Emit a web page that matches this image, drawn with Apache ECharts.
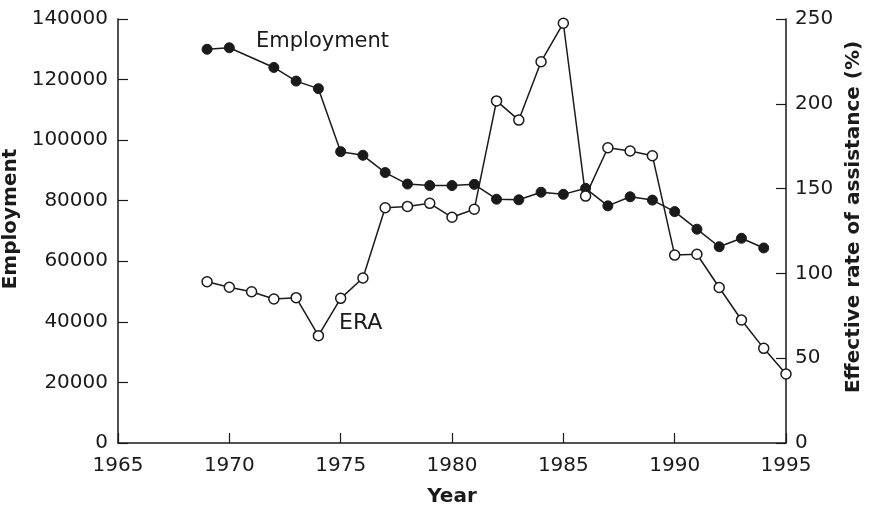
<!DOCTYPE html>
<html>
<head>
<meta charset="utf-8">
<style>
  html, body { margin: 0; padding: 0; background: #fff; }
  #chart { width: 871px; height: 511px; }
</style>
<script src="https://cdn.jsdelivr.net/npm/echarts@6/dist/echarts.min.js"></script>
</head>
<body>
<div id="chart"></div>
<script>
// Employment (left axis), filled markers
const empYears = [1969, 1970, 1972, 1973, 1974, 1975, 1976, 1977, 1978, 1979, 1980, 1981, 1982,
                  1983, 1984, 1985, 1986, 1987, 1988, 1989, 1990, 1991, 1992, 1993, 1994];
const empValues = [130000, 130500, 124000, 119500, 117000, 96200, 95000, 89300, 85500, 85000, 85000, 85400, 80500,
                   80300, 82800, 82100, 84100, 78300, 81300, 80200, 76400, 70600, 64800, 67600, 64400];

// Effective rate of assistance (right axis), hollow markers
const eraYears = [1969, 1970, 1971, 1972, 1973, 1974, 1975, 1976, 1977, 1978, 1979, 1980, 1981, 1982,
                  1983, 1984, 1985, 1986, 1987, 1988, 1989, 1990, 1991, 1992, 1993, 1994, 1995];
const eraValues = [95.1, 91.8, 89.2, 84.9, 85.7, 63.3, 85.3, 97.3, 138.7, 139.5, 141.3, 133.1, 137.8, 201.7,
                   190.4, 224.8, 247.5, 145.6, 174.1, 172.2, 169.4, 110.8, 111.3, 91.7, 72.5, 55.8, 40.7];

const xTicks = [1965, 1970, 1975, 1980, 1985, 1990, 1995];
const leftTicks = [0, 20000, 40000, 60000, 80000, 100000, 120000, 140000];
const rightTicks = [0, 50, 100, 150, 200, 250];

const empData = empYears.map((y, i) => [y, empValues[i]]);
const eraData = eraYears.map((y, i) => [y, eraValues[i]]);

const ink = '#1a1a1a';
const tickFont = { fontFamily: 'DejaVu Sans', fontSize: 20, color: ink };
const titleFont = { fontFamily: 'DejaVu Sans', fontSize: 20, fontWeight: 'bold', color: ink };

const chart = echarts.init(document.getElementById('chart'), null, { renderer: 'canvas' });
chart.setOption({
  backgroundColor: '#fff',
  animation: false,
  grid: { left: 118, right: 85, top: 19, bottom: 68, containLabel: false, outerBoundsMode: 'none' },
  xAxis: {
    type: 'value',
    min: xTicks[0], max: xTicks[xTicks.length - 1], interval: 5,
    name: 'Year', nameLocation: 'middle', nameGap: 44,
    nameTextStyle: titleFont,
    axisLine: { show: true, lineStyle: { color: ink, width: 1.5 } },
    axisTick: { show: true, inside: true, length: 10, lineStyle: { color: ink, width: 1.2 } },
    axisLabel: Object.assign({ margin: 13, formatter: v => String(v) }, tickFont),
    splitLine: { show: false }
  },
  yAxis: [
    {
      type: 'value', position: 'left',
      min: leftTicks[0], max: leftTicks[leftTicks.length - 1], interval: 20000,
      name: 'Employment', nameLocation: 'middle', nameGap: 90, nameRotate: 90,
      nameTextStyle: Object.assign({ padding: [0, 0, 0, 24] }, titleFont),
      axisLine: { show: true, lineStyle: { color: ink, width: 1.5 } },
      axisTick: { show: true, inside: true, length: 10, lineStyle: { color: ink, width: 1.2 } },
      axisLabel: Object.assign({ margin: 10, formatter: v => String(v) }, tickFont),
      splitLine: { show: false }
    },
    {
      type: 'value', position: 'right',
      min: rightTicks[0], max: rightTicks[rightTicks.length - 1], interval: 50,
      name: 'Effective rate of assistance (%)', nameLocation: 'middle', nameGap: 55, nameRotate: 90,
      nameTextStyle: Object.assign({ padding: [0, 0, 0, 28] }, titleFont),
      axisLine: { show: true, lineStyle: { color: ink, width: 1.5 } },
      axisTick: { show: true, inside: true, length: 10, lineStyle: { color: ink, width: 1.2 } },
      axisLabel: Object.assign({ margin: 9 }, tickFont),
      splitLine: { show: false }
    }
  ],
  series: [
    {
      name: 'Employment', type: 'line', yAxisIndex: 0, data: empData,
      symbol: 'circle', symbolSize: 10,
      lineStyle: { color: ink, width: 1.5 },
      itemStyle: { color: ink, borderColor: ink, borderWidth: 1 },
      z: 2
    },
    {
      name: 'ERA', type: 'line', yAxisIndex: 1, data: eraData,
      symbol: 'circle', symbolSize: 10,
      lineStyle: { color: ink, width: 1.5 },
      itemStyle: { color: '#fff', borderColor: ink, borderWidth: 1.5 },
      z: 3
    }
  ],
  graphic: [
    { type: 'text', left: 256, top: 31, style: { text: 'Employment', font: '21px "DejaVu Sans"', fill: ink } },
    { type: 'text', left: 339, top: 312, style: { text: 'ERA', font: '22px "DejaVu Sans"', fill: ink } }
  ]
});
</script>
</body>
</html>
